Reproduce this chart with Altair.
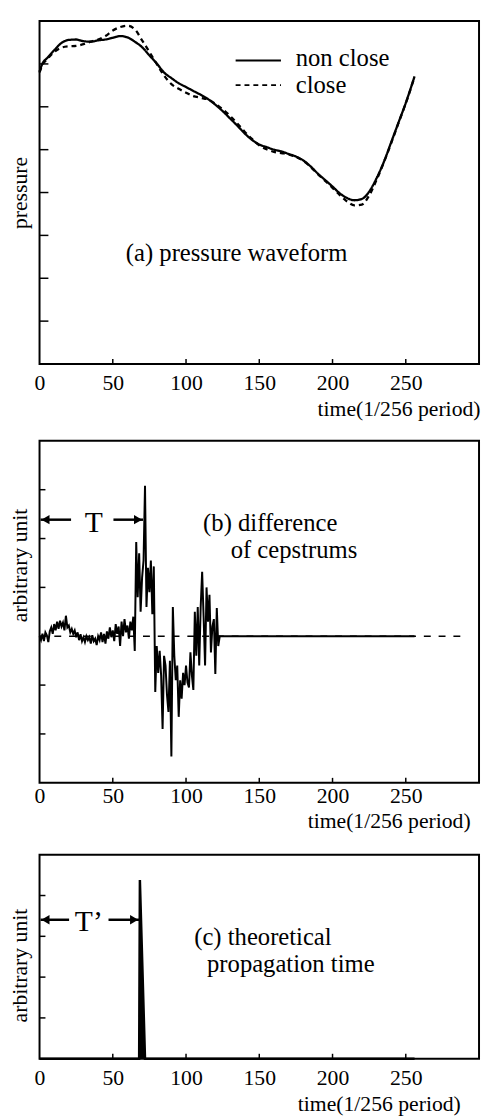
import altair as alt
import pandas as pd

FONT = "Liberation Serif"

# ---------------- data ----------------
x_tick_values = [0, 50, 100, 150, 200, 250]

# (a) pressure waveform
a_x = [0, 2, 5, 10, 15, 20, 25, 30, 35, 40, 45, 50, 55, 60, 65, 70, 75, 80, 85, 90,
       95, 100, 105, 110, 115, 120, 125, 130, 135, 140, 145, 150, 155, 160, 165, 170,
       175, 180, 185, 190, 195, 200, 205, 210, 215, 220, 225, 230, 235, 240, 245, 250, 256]
a_non_close = [6.82, 7.01, 7.13, 7.32, 7.49, 7.56, 7.57, 7.53, 7.52, 7.55, 7.57, 7.61, 7.65,
               7.62, 7.52, 7.39, 7.20, 7.01, 6.80, 6.67, 6.55, 6.46, 6.37, 6.28, 6.18, 6.05,
               5.90, 5.73, 5.56, 5.38, 5.23, 5.12, 5.06, 5.00, 4.96, 4.90, 4.84, 4.75, 4.61,
               4.44, 4.29, 4.14, 3.98, 3.87, 3.82, 3.85, 4.02, 4.33, 4.71, 5.17, 5.63, 6.09, 6.71]
a_close = [6.80, 6.98, 7.10, 7.28, 7.38, 7.41, 7.42, 7.46, 7.52, 7.57, 7.65, 7.78, 7.86,
           7.89, 7.81, 7.55, 7.28, 7.00, 6.73, 6.53, 6.42, 6.33, 6.25, 6.21, 6.17, 6.07,
           5.94, 5.79, 5.61, 5.42, 5.25, 5.10, 5.01, 4.95, 4.92, 4.89, 4.83, 4.74, 4.60,
           4.43, 4.27, 4.11, 3.94, 3.79, 3.70, 3.72, 3.93, 4.29, 4.70, 5.15, 5.62, 6.08, 6.70]
a_series = ["non close", "close"]
a_y_ticks = [1, 2, 3, 4, 5, 6, 7]

# (b) difference of cepstrums
b_x = list(range(0, 124)) + [256]
b_y = [0.0, -0.08, 0.05, -0.1, 0.08, 0.02, -0.12, 0.1, 0.18, 0.05,
       0.25, 0.12, 0.3, 0.15, 0.32, 0.2, 0.28, 0.12, 0.42, 0.18,
       0.22, 0.08, 0.15, 0.05, 0.12, -0.02, 0.08, -0.08, 0.04, -0.1,
       -0.02, -0.12, 0.0, -0.08, -0.02, -0.15, 0.02, -0.1, -0.05, -0.18,
       0.0, -0.08, 0.08, -0.12, 0.05, -0.15, 0.1, -0.05, 0.18, -0.02,
       0.12, -0.1, 0.25, 0.05, 0.2, -0.2, 0.3, 0.0, 0.35, 0.08,
       0.22, -0.05, 0.3, 0.12, 0.4, -0.3, 1.93, 0.8, 1.7, 0.5,
       1.2, 1.55, 3.08, 0.6, 1.4, 0.9, 1.55, 0.45, 1.43, -1.14,
       -0.2, -0.75, -0.3, -0.8, -1.9, -0.4, -0.6, -1.2, -1.55, -0.5,
       -2.46, 0.6, -0.4, -0.9, -0.6, -1.65, -0.9, -1.28, -0.75, -1.0,
       -0.6, -0.95, -1.05, -0.33, -0.8, -1.1, 0.5, -0.4, 0.6, -0.6,
       0.6, 1.32, 0.4, -0.6, 1.0, 0.3, 0.85, -0.33, 0.2, 0.35,
       -0.77, 0.58, -0.2, 0.0, 0.0]
b_zero_x = [0, 292]
b_zero_y = [0, 0]
b_y_ticks = [-2, -1, 0, 1, 2, 3]

# (c) theoretical propagation time
c_x = [0, 68, 68.5, 72, 256]
c_y = [0, 0, 4.38, 0, 0]
c_y_ticks = [1, 2, 3, 4]

# ---------------- layout constants ----------------
W = 446
HA, HB, HC = 348, 347, 207
XS = alt.Scale(domain=[0, 300], nice=False, zero=False)


def xaxis(pad, title_x, title_y):
    return alt.Axis(values=x_tick_values, title="time(1/256 period)", labelFont=FONT,
                    labelFontSize=22, labelColor="black", labelPadding=pad, labelFlush=False,
                    ticks=False, tickSize=0, domain=False, grid=False,
                    titleFont=FONT, titleFontSize=22, titleFontWeight="normal",
                    titleColor="black", titleAlign="right", titleAnchor="end",
                    titleBaseline="alphabetic", titleX=title_x, titleY=title_y)


def yaxis(title, title_y):
    return alt.Axis(title=title, labels=False, ticks=False, tickSize=0, domain=False,
                    grid=False, titleFont=FONT, titleFontSize=22, titleFontWeight="normal",
                    titleColor="black", titleAngle=270, titleAlign="center",
                    titleBaseline="middle", titleX=-20, titleY=title_y)


def inward_ticks(yvals, ys, xa, ya, h, ylen):
    yt = alt.Chart(pd.DataFrame({"y": yvals})).mark_rule(color="black", strokeWidth=1.5).encode(
        y=alt.Y("y:Q", scale=ys, axis=ya), x=alt.value(0), x2=alt.value(ylen))
    xt = alt.Chart(pd.DataFrame({"x": x_tick_values[1:]})).mark_rule(color="black", strokeWidth=1.5).encode(
        x=alt.X("x:Q", scale=XS, axis=xa), y=alt.value(h), y2=alt.value(h - 5))
    return [yt, xt]


def label(text, x, y, size=25, align="left"):
    return alt.Chart(pd.DataFrame({"t": [text]})).mark_text(
        font=FONT, fontSize=size, color="black", align=align, baseline="middle").encode(
        text="t:N", x=alt.value(x), y=alt.value(y))


def arrow(x0, x1, y, head_left):
    shaft = alt.Chart(pd.DataFrame({"k": [0]})).mark_rule(color="black", strokeWidth=2.5).encode(
        x=alt.value(x0), x2=alt.value(x1), y=alt.value(y))
    hx = x0 + 5 if head_left else x1 - 5
    head = alt.Chart(pd.DataFrame({"k": [0]})).mark_point(
        shape="triangle-left" if head_left else "triangle-right", filled=True, size=90,
        color="black", opacity=1).encode(x=alt.value(hx), y=alt.value(y))
    return [shaft, head]


# ---------------- panel (a) ----------------
ya_scale = alt.Scale(domain=[0, 8], nice=False, zero=False)
xa_a = xaxis(9, W + 1, 52)
ya_a = yaxis("pressure", 174)
df_a = pd.DataFrame({
    "x": a_x * 2,
    "y": a_non_close + a_close,
    "s": [a_series[0]] * len(a_x) + [a_series[1]] * len(a_x),
})
lines_a = alt.Chart(df_a).mark_line(color="black", strokeWidth=2.3, interpolate="monotone").encode(
    x=alt.X("x:Q", scale=XS, axis=xa_a),
    y=alt.Y("y:Q", scale=ya_scale, axis=ya_a),
    strokeDash=alt.StrokeDash("s:N", scale=alt.Scale(domain=a_series, range=[[1, 0], [5, 4]]), legend=None),
    detail="s:N",
)
leg_solid = alt.Chart(pd.DataFrame({"k": [0]})).mark_rule(color="black", strokeWidth=2).encode(
    x=alt.value(199), x2=alt.value(245), y=alt.value(40))
leg_dash = alt.Chart(pd.DataFrame({"k": [0]})).mark_rule(color="black", strokeWidth=2, strokeDash=[5, 4]).encode(
    x=alt.value(199), x2=alt.value(245), y=alt.value(65))
panel_a = alt.layer(
    lines_a, *inward_ticks(a_y_ticks, ya_scale, xa_a, ya_a, HA, 9), leg_solid, leg_dash,
    label("non close", 260, 38), label("close", 260, 65),
    label("(a) pressure waveform", 200, 235, align="center"),
).properties(width=W, height=HA)

# ---------------- panel (b) ----------------
yb_scale = alt.Scale(domain=[-3, 4], nice=False, zero=False)
xa_b = xaxis(3, W - 9, 45)
ya_b = yaxis("arbitrary unit", 126)
zero_b = alt.Chart(pd.DataFrame({"x": b_zero_x, "y": b_zero_y})).mark_line(
    color="black", strokeWidth=1.5, strokeDash=[7, 8]).encode(
    x=alt.X("x:Q", scale=XS, axis=xa_b), y=alt.Y("y:Q", scale=yb_scale, axis=ya_b))
line_b = alt.Chart(pd.DataFrame({"x": b_x, "y": b_y})).mark_line(color="black", strokeWidth=2).encode(
    x=alt.X("x:Q", scale=XS, axis=xa_b),
    y=alt.Y("y:Q", scale=yb_scale, axis=ya_b),
)
panel_b = alt.layer(
    zero_b, line_b, *inward_ticks(b_y_ticks, yb_scale, xa_b, ya_b, HB, 6),
    *arrow(1, 32, 80, True), *arrow(75, 105, 80, False),
    label("T", 55, 83, size=30, align="center"),
    label("(b) difference", 166, 83), label("of cepstrums", 194, 111),
).properties(width=W, height=HB)

# ---------------- panel (c) ----------------
yc_scale = alt.Scale(domain=[0, 5], nice=False, zero=False)
xa_c = xaxis(9, W - 19, 53)
ya_c = yaxis("arbitrary unit", 112)
df_c = pd.DataFrame({"x": c_x, "y": c_y})
area_c = alt.Chart(df_c).mark_area(color="black", opacity=1).encode(
    x=alt.X("x:Q", scale=XS, axis=xa_c),
    y=alt.Y("y:Q", scale=yc_scale, axis=ya_c),
)
line_c = alt.Chart(df_c).mark_line(color="black", strokeWidth=2.5).encode(
    x=alt.X("x:Q", scale=XS, axis=xa_c), y=alt.Y("y:Q", scale=yc_scale, axis=ya_c))
panel_c = alt.layer(
    area_c, line_c, *inward_ticks(c_y_ticks, yc_scale, xa_c, ya_c, HC, 6),
    *arrow(1, 30, 66, True), *arrow(70, 101, 66, False),
    label("T\u2019", 50, 68, size=30, align="center"),
    label("(c) theoretical", 157, 84), label("propagation time", 170, 111),
).properties(width=W, height=HC)

lower = alt.vconcat(panel_b, panel_c, spacing=73, bounds="flush")
chart = alt.vconcat(panel_a, lower, spacing=20).properties(
    padding={"left": 0, "top": 4, "right": 0, "bottom": 0}
).configure_view(stroke="black", strokeWidth=2)

chart.save("out.html", embed_options={"renderer": "svg", "actions": False})
